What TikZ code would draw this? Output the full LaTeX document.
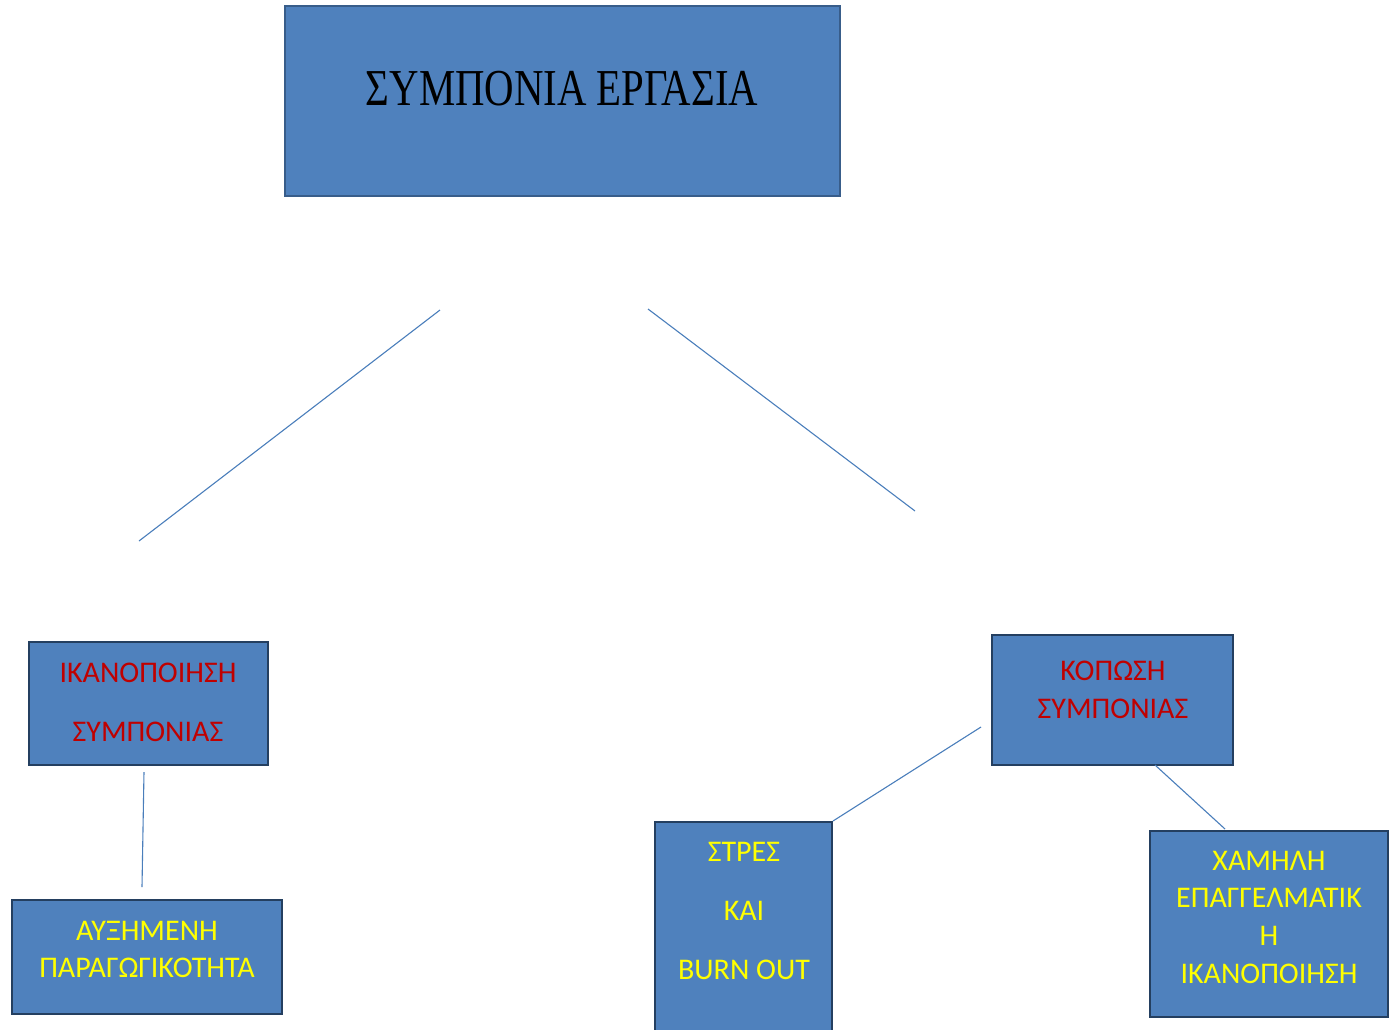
\documentclass[tikz,border=0pt]{standalone}
\usepackage{fontspec}
\setmainfont{Carlito}
\newfontfamily\titlefont{Liberation Serif}
\definecolor{boxfill}{HTML}{4F81BD}
\definecolor{boxedge}{HTML}{243F60}
\definecolor{titleedge}{HTML}{385D8A}
\definecolor{redtxt}{HTML}{C00000}
\definecolor{yeltxt}{HTML}{FFFF00}
\definecolor{linkcol}{HTML}{4A7EBB}
\tikzset{
  box/.style={draw=boxedge, line width=2.8pt, fill=boxfill, inner sep=0pt},
  titlebox/.style={draw=titleedge, line width=1.6pt, fill=boxfill, inner sep=0pt},
  redlbl/.style={text=redtxt, font=\fontsize{30}{34}\selectfont, inner sep=0pt, anchor=base},
  yellbl/.style={text=yeltxt, font=\fontsize{30}{34}\selectfont, inner sep=0pt, anchor=base},
  link/.style={draw=linkcol, line width=1.1pt}
}
\newcommand{\tallt}[1]{\scalebox{1}[1.27]{#1}}
\begin{document}
\begin{tikzpicture}[x=1pt,y=1pt]
\useasboundingbox (0,0) rectangle (1395,-1029);
% title
\node[titlebox, minimum width=555pt, minimum height=190pt] (title) at (562.5,-101) {};
\node[inner sep=0pt, font=\titlefont\fontsize{40.8}{46}\selectfont] (titletxt) at (562,-89) {\tallt{ΣΥΜΠΟΝΙΑ ΕΡΓΑΣΙΑ}};
% boxes
\node[box, minimum width=239pt, minimum height=123pt] (ikan) at (148.5,-703.5) {};
\node[box, minimum width=270pt, minimum height=114pt] (auxi) at (147,-957) {};
\node[box, minimum width=241pt, minimum height=130pt] (kopo) at (1112.5,-700) {};
\node[box, minimum width=177pt, minimum height=230pt] (stre) at (743.5,-937) {};
\node[box, minimum width=238pt, minimum height=186pt] (xamh) at (1269,-924) {};
% texts
\node[redlbl] (ik1) at (148,-682) {ΙΚΑΝΟΠΟΙΗΣΗ};
\node[redlbl] (ik2) at (148,-741) {ΣΥΜΠΟΝΙΑΣ};
\node[yellbl] (ay1) at (147,-940) {ΑΥΞΗΜΕΝΗ};
\node[yellbl] (ay2) at (147,-977) {ΠΑΡΑΓΩΓΙΚΟΤΗΤΑ};
\node[redlbl] (ko1) at (1113,-680) {ΚΟΠΩΣΗ};
\node[redlbl] (ko2) at (1113,-718) {ΣΥΜΠΟΝΙΑΣ};
\node[yellbl] (st1) at (744,-861) {ΣΤΡΕΣ};
\node[yellbl] (st2) at (744,-920) {ΚΑΙ};
\node[yellbl] (st3) at (744,-979) {BURN OUT};
\node[yellbl] (ch1) at (1269,-870) {ΧΑΜΗΛΗ};
\node[yellbl] (ch2) at (1269,-907) {ΕΠΑΓΓΕΛΜΑΤΙΚ};
\node[yellbl] (ch3) at (1269,-945) {Η};
\node[yellbl] (ch4) at (1269,-983) {ΙΚΑΝΟΠΟΙΗΣΗ};
% connector ends
\coordinate (a1) at (440,-310);
\coordinate (a2) at (139,-541);
\coordinate (b1) at (648,-309);
\coordinate (b2) at (915,-511);
\coordinate (c1) at (144,-772);
\coordinate (c2) at (142,-887);
\coordinate (d1) at (981,-727);
\coordinate (d2) at (833,-821);
\coordinate (e1) at (1155,-765);
\coordinate (e2) at (1225,-829);
\draw[link] (a1) -- (a2);
\draw[link] (b1) -- (b2);
\draw[link] (c1) -- (c2);
\draw[link] (d1) -- (d2);
\draw[link] (e1) -- (e2);
\end{tikzpicture}
\end{document}
